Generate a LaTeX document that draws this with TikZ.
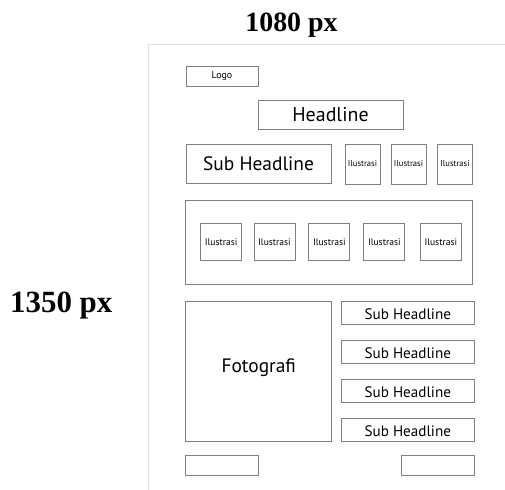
\documentclass[tikz,border=0pt]{standalone}
\usepackage{fontspec}
\setmainfont{Liberation Serif}
\newfontfamily\wiresans{PT Sans}
\begin{document}
\begin{tikzpicture}[x=1bp,y=-1bp,
  wbox/.style={draw=black!50,line width=0.9bp,inner sep=0pt,font=\wiresans,text=black},
  dimlabel/.style={font=\bfseries\fontsize{29}{29}\selectfont,inner sep=0pt}]
\useasboundingbox (0,0) rectangle (505,490);
% canvas edge
\draw[black!12,line width=1bp] (148.5,490) -- (148.5,45) -- (505,45);
% dimension labels
\node[dimlabel,font=\bfseries\fontsize{28}{28}\selectfont] (w) at (291.5,25) {1080 px};
\node[dimlabel,anchor=west,font=\bfseries\fontsize{31}{31}\selectfont] (h) at (10,306) {1350 px};
% header
\node[wbox,minimum width=72bp,minimum height=20bp,font=\wiresans\fontsize{10}{11}\selectfont] (logo) at (222,76) {Logo};
\node[wbox,minimum width=145bp,minimum height=29bp,font=\wiresans\fontsize{20}{21}\selectfont] (head) at (330.5,114.5) {Headline};
\node[wbox,minimum width=145bp,minimum height=39bp,font=\wiresans\fontsize{19.5}{20}\selectfont] (sub) at (258.5,163.5) {Sub Headline};
\foreach \n/\x in {i1/362.5,i2/408.5,i3/455}
  \node[wbox,minimum width=35bp,minimum height=40bp,font=\wiresans\fontsize{8.6}{9}\selectfont] (\n) at (\x,164) {Ilustrasi};
% gallery strip
\node[wbox,minimum width=287bp,minimum height=84bp] (strip) at (329.2,242) {};
\foreach \n/\x in {g1/221.2,g2/274.5,g3/329.3,g4/384.3,g5/440.8}
  \node[wbox,minimum width=41bp,minimum height=37bp,font=\wiresans\fontsize{9.6}{10}\selectfont] (\n) at (\x,242.2) {Ilustrasi};
% photo and sub headlines
\node[wbox,minimum width=146bp,minimum height=140bp,font=\wiresans\fontsize{19.5}{20}\selectfont] (foto) at (258.7,371.7) {\raisebox{4bp}[\height][\depth]{Fotografi}};
\foreach \n/\y in {s1/313,s2/352,s3/390.8,s4/430}
  \node[wbox,minimum width=133bp,minimum height=22.8bp,font=\wiresans\fontsize{15.2}{16}\selectfont] (\n) at (407.8,\y) {\raisebox{-1.5bp}[\height][\depth]{Sub Headline}};
% footer
\node[wbox,minimum width=72.6bp,minimum height=20bp] (f1) at (222,465) {};
\node[wbox,minimum width=72.3bp,minimum height=20bp] (f2) at (437.9,465) {};
\end{tikzpicture}
\end{document}
